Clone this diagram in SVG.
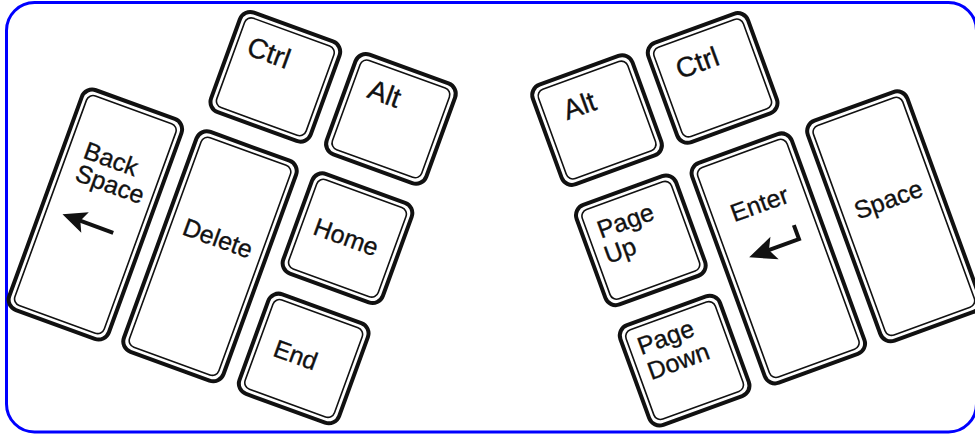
<svg xmlns="http://www.w3.org/2000/svg" width="975" height="437" viewBox="0 0 975 437">
<style>
.frame{fill:#fff;stroke:#0000ff;stroke-width:3}
.ko{fill:#fff;stroke:#111;stroke-width:4}
.ki{fill:none;stroke:#111;stroke-width:1.6}
.lbl{font-family:"Liberation Sans",Arial,sans-serif;font-size:25px;fill:#111;stroke:#111;stroke-width:0.35}
.big{font-size:28px}
.shaft{fill:none;stroke:#111;stroke-width:4}
.head{fill:#111}
</style>
<rect x="0" y="0" width="975" height="437" fill="#fff"/>
<rect id="frame" class="frame" x="6.5" y="2.5" width="970" height="429.5" rx="28"/>
<g id="left-cluster" transform="rotate(20)">
  <g id="key-backspace">
    <rect class="ko" x="110" y="52" width="106" height="234" rx="11"/>
    <rect class="ki" x="115.5" y="57.5" width="95" height="223" rx="7"/>
    <text class="lbl" x="131" y="120">Back</text>
    <text class="lbl" x="131" y="144">Space</text>
    <line class="shaft" x1="150" y1="180" x2="186" y2="180"/>
    <polygon class="head" points="132,180 156,169 151,180 156,191"/>
  </g>
  <g id="key-delete">
    <rect class="ko" x="232" y="52" width="106" height="234" rx="11"/>
    <rect class="ki" x="237.5" y="57.5" width="95" height="223" rx="7"/>
    <text class="lbl" x="250" y="158">Delete</text>
  </g>
  <g id="key-ctrl-left">
    <rect class="ko" x="232" y="-75" width="106" height="106" rx="11"/>
    <rect class="ki" x="237.5" y="-69.5" width="95" height="95" rx="7"/>
    <text class="lbl big" x="249" y="-33">Ctrl</text>
  </g>
  <g id="key-alt-left">
    <rect class="ko" x="355" y="-75" width="106" height="106" rx="11"/>
    <rect class="ki" x="360.5" y="-69.5" width="95" height="95" rx="7"/>
    <text class="lbl big" x="377" y="-34">Alt</text>
  </g>
  <g id="key-home">
    <rect class="ko" x="355" y="52" width="106" height="106" rx="11"/>
    <rect class="ki" x="360.5" y="57.5" width="95" height="95" rx="7"/>
    <text class="lbl" x="373" y="113">Home</text>
  </g>
  <g id="key-end">
    <rect class="ko" x="355" y="180" width="106" height="106" rx="11"/>
    <rect class="ki" x="360.5" y="185.5" width="95" height="95" rx="7"/>
    <text class="lbl" x="377" y="241">End</text>
  </g>
</g>
<g id="right-cluster" transform="rotate(-20)">
  <g id="key-alt-right">
    <rect class="ko" x="467" y="264" width="106" height="106" rx="11"/>
    <rect class="ki" x="472.5" y="269.5" width="95" height="95" rx="7"/>
    <text class="lbl big" x="492" y="307">Alt</text>
  </g>
  <g id="key-ctrl-right">
    <rect class="ko" x="590" y="264" width="106" height="106" rx="11"/>
    <rect class="ki" x="595.5" y="269.5" width="95" height="95" rx="7"/>
    <text class="lbl big" x="612" y="307">Ctrl</text>
  </g>
  <g id="key-pageup">
    <rect class="ko" x="467" y="392" width="106" height="106" rx="11"/>
    <rect class="ki" x="472.5" y="397.5" width="95" height="95" rx="7"/>
    <text class="lbl" x="483" y="430">Page</text>
    <text class="lbl" x="481" y="456">Up</text>
  </g>
  <g id="key-pagedown">
    <rect class="ko" x="467" y="520" width="106" height="106" rx="11"/>
    <rect class="ki" x="472.5" y="525.5" width="95" height="95" rx="7"/>
    <text class="lbl" x="481" y="553">Page</text>
    <text class="lbl" x="482" y="580">Down</text>
  </g>
  <g id="key-enter">
    <rect class="ko" x="590" y="392" width="106" height="234" rx="11"/>
    <rect class="ki" x="595.5" y="397.5" width="95" height="223" rx="7"/>
    <text class="lbl" x="614" y="460">Enter</text>
    <polyline class="shaft" points="636,498 669,498 669,483"/>
    <polygon class="head" points="616,498 643,486 637,498 643,510"/>
  </g>
  <g id="key-space">
    <rect class="ko" x="713" y="392" width="106" height="234" rx="11"/>
    <rect class="ki" x="718.5" y="397.5" width="95" height="223" rx="7"/>
    <text class="lbl" x="731" y="500">Space</text>
  </g>
</g>
</svg>
